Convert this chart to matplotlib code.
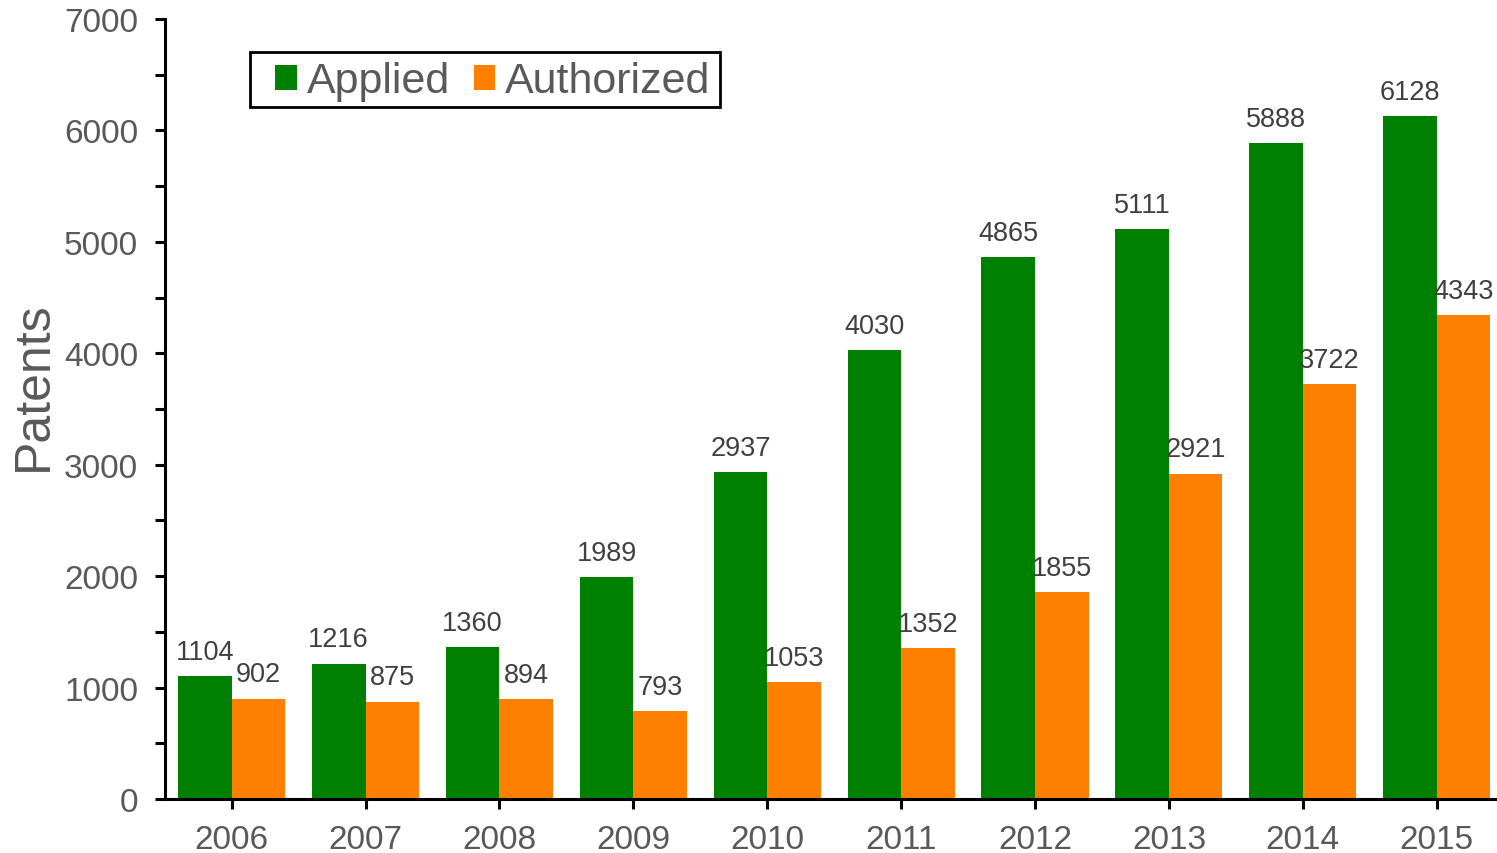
import matplotlib.pyplot as plt
import numpy as np
from matplotlib.ticker import MultipleLocator
from matplotlib.patches import Rectangle

plt.rcParams['font.family'] = ['Liberation Sans', 'DejaVu Sans']

years = ['2006', '2007', '2008', '2009', '2010', '2011', '2012', '2013', '2014', '2015']
applied = [1104, 1216, 1360, 1989, 2937, 4030, 4865, 5111, 5888, 6128]
authorized = [902, 875, 894, 793, 1053, 1352, 1855, 2921, 3722, 4343]

green = '#008000'
orange = '#ff8000'
grey = '#595959'

fig = plt.figure(figsize=(14.97, 8.54), dpi=100)
ax = fig.add_axes([0.110, 0.0632, 0.890, 0.9134])

x = np.arange(len(years))
w = 0.4
b1 = ax.bar(x - w / 2, applied, w, color=green, label='Applied')
b2 = ax.bar(x + w / 2, authorized, w, color=orange, label='Authorized')

# value labels above each bar
for bars, vals in ((b1, applied), (b2, authorized)):
    for r, v in zip(bars, vals):
        ax.annotate(str(v), (r.get_x() + r.get_width() / 2, v),
                    xytext=(0, 8), textcoords='offset points',
                    ha='center', va='bottom', fontsize=19.5, color='#404040')

ax.set_xlim(-0.5, 9.45)
ax.set_ylim(0, 7000)
ax.set_xticks(x)
ax.set_xticklabels(years)
ax.yaxis.set_major_locator(MultipleLocator(1000))
ax.yaxis.set_minor_locator(MultipleLocator(500))

for s in ['top', 'right']:
    ax.spines[s].set_visible(False)
for s in ['left', 'bottom']:
    ax.spines[s].set_linewidth(2.2)

ax.tick_params(axis='both', which='major', labelsize=24, labelcolor=grey,
               width=2.2, length=7, pad=12)
ax.tick_params(axis='y', which='minor', width=2.2, length=7)
ax.tick_params(axis='x', pad=11)

ax.set_ylabel('Patents', fontsize=36, color=grey)
ax.yaxis.set_label_coords(-0.081, 0.53)

# legend without its own frame, box drawn separately
leg = ax.legend(loc='center left', bbox_to_anchor=(0.0826, 0.9200), ncol=2,
                fontsize=31, frameon=False,
                handlelength=0.51, handleheight=0.51, handletextpad=0.23,
                columnspacing=0.55, borderpad=0, borderaxespad=0,
                labelcolor=grey)
ax.add_patch(Rectangle((0.0638, 0.887), 0.3529, 0.0705, transform=ax.transAxes,
                       fill=False, edgecolor='black', linewidth=2,
                       clip_on=False, zorder=5))

fig.savefig('out.png', dpi=100)
